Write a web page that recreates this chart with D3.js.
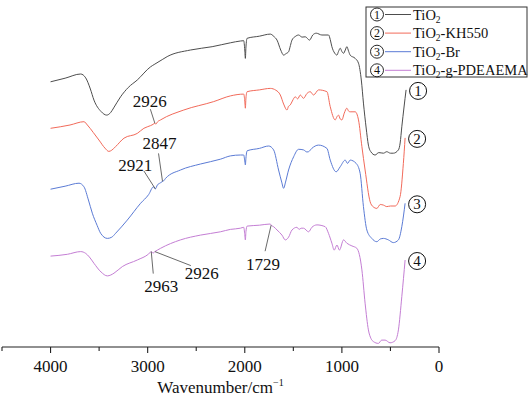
<!DOCTYPE html>
<html>
<head>
<meta charset="utf-8">
<script src="https://cdn.jsdelivr.net/npm/d3@7"></script>
<style>
  body { margin: 0; background: #fff; }
  svg { display: block; }
</style>
</head>
<body>
<div id="chart"></div>
<script>
// FTIR spectra, [wavenumber (cm-1), transmittance a.u. (stacked)]
let tio2 = [
    [4000,88.4],[3850,89.6],[3690,91.0],[3638,89.7],[3590,86],[3553,82.3],[3480,78.5],[3422,77.3],[3380,78.2],
    [3350,79.7],[3279,83.4],[3200,86.5],[3107,89.0],[2970,93.4],[2926,94.3],[2850,95.8],[2799,96.8],[2559,99.0],
    [2336,100.1],[2148,101.4],[2045,102.0],[2011,102.1],[2000,99],[1994,96.2],[1988,100],[1976,102.9],[1850,103.6],
    [1737,104.3],[1700,103.5],[1668,102.3],[1630,99],[1600,97.3],[1575,97.8],[1549,98.4],[1530,100.5],[1514,102.3],
    [1480,103.5],[1446,104.0],[1410,103.3],[1377,103.4],[1333,102.3],[1300,104],[1264,104.6],[1206,104.0],[1137,104.0],
    [1120,102.5],[1103,100.1],[1075,98],[1051,97.3],[1035,98.5],[1017,99.6],[1000,98.5],[983,97.9],[965,99],
    [949,100.1],[930,98.5],[915,97.3],[863,96.2],[829,94.6],[800,89],[778,81.3],[750,73],[727,67.3],[700,65],
    [658,64.0],[620,64.8],[572,64.6],[538,65.1],[500,64.6],[470,64.6],[418,65.7],[400,68],[383,73.4],[360,80],[339,85.7]
];
let tio2KH550 = [
    [4000,72.9],[3800,74],[3656,75.1],[3621,74.0],[3560,71.5],[3502,69.0],[3440,66.3],[3400,65.2],[3370,65.6],
    [3330,66.8],[3244,69.6],[3107,71.2],[3039,72.9],[2970,73.8],[2945,74.2],[2926,74.6],[2915,74.3],[2900,75.0],
    [2867,75.7],[2628,79.0],[2320,81.8],[2148,83.7],[2011,84.3],[2000,82],[1994,79.6],[1988,83],[1976,85.1],
    [1850,85.7],[1737,86.2],[1680,85.6],[1634,84.0],[1600,81],[1565,79.0],[1550,80.2],[1531,80.7],[1510,82],
    [1480,83.4],[1455,82.7],[1429,84.0],[1395,82.9],[1360,84.5],[1326,85.1],[1292,84.0],[1240,85.7],[1154,85.1],
    [1120,80.1],[1069,75.7],[1050,76.8],[1035,77.3],[1017,76],[1000,75.7],[975,78],[949,79.6],[930,78.6],[915,78.4],
    [863,78.4],[829,75.7],[794,66.8],[761,59.0],[709,48.4],[680,46.8],[640,46.2],[605,47.5],[572,47.3],[538,46.8],
    [500,47],[452,47.0],[401,50.1],[367,61.2],[349,69.7]
];
let tio2Br = [
    [4000,52.6],[3850,53.6],[3707,54.6],[3656,53.4],[3610,49],[3570,44.6],[3520,40.5],[3484,37.9],[3415,36.2],
    [3370,36.6],[3330,37.9],[3210,42.3],[3073,47.9],[2990,50.8],[2940,53.4],[2921,52.7],[2900,54.0],[2870,54.7],
    [2847,55.2],[2835,55.4],[2816,56.2],[2662,59.0],[2456,61.0],[2251,62.6],[2148,63.7],[2045,64.0],[2011,64.0],
    [2000,62],[1994,60.7],[1988,63],[1976,65.4],[1850,66.2],[1754,67.0],[1703,65.7],[1652,59.0],[1620,55],
    [1600,52.9],[1580,55],[1549,59.0],[1497,63.4],[1446,65.9],[1395,65.7],[1360,65.0],[1343,65.1],[1310,66.2],
    [1240,67.3],[1154,66.2],[1120,62.3],[1059,58.4],[1017,60.1],[966,62.3],[942,61.2],[915,62.3],[853,61.2],
    [812,57.9],[778,46.8],[743,39.0],[692,36.2],[640,35.1],[605,36],[572,36.2],[521,35.7],[470,34.8],[418,35.7],
    [383,40.1],[349,47.9]
];
let tio2PDEAEMA = [
    [4000,30.3],[3827,30.9],[3690,31.8],[3638,31.2],[3600,30],[3553,27.9],[3480,25],[3415,23.7],[3380,24],
    [3347,24.6],[3261,26.8],[3107,29.0],[2990,31.0],[2963,31.8],[2945,31.3],[2926,31.8],[2900,32.3],[2867,32.9],
    [2662,35.7],[2456,37.3],[2251,38.4],[2148,39.2],[2045,39.6],[2011,39.9],[2000,37.5],[1994,35.7],[1988,38.5],
    [1976,40.3],[1850,40.6],[1737,41.0],[1729,40.6],[1703,40.1],[1668,39.0],[1617,37.3],[1583,35.7],[1549,36.6],
    [1514,39.0],[1463,39.9],[1440,39.2],[1420,39.6],[1395,39.6],[1343,38.4],[1309,39.9],[1257,40.7],[1172,40.1],
    [1138,37.9],[1103,34.6],[1079,32.3],[1051,34.0],[1025,32.3],[983,35.7],[949,34.6],[897,33.7],[846,32.9],
    [794,25.7],[761,14.6],[727,5.7],[700,2.8],[675,1.8],[624,1.2],[590,2.3],[555,2.3],[504,1.4],[452,2.1],
    [418,5.7],[383,16.8],[349,29.0]
];

let seriesNames = ["TiO2", "TiO2-KH550", "TiO2-Br", "TiO2-g-PDEAEMA"];
let seriesNumbers = ["1", "2", "3", "4"];
let seriesData = [tio2, tio2KH550, tio2Br, tio2PDEAEMA];

// peak labels: text, wavenumber, which series (index)
let peakLabels = ["2926", "2847", "2921", "2963", "2926", "1729"];
let peakWavenumbers = [2926, 2847, 2921, 2963, 2926, 1729];
let peakSeries = [1, 2, 2, 3, 3, 3];

let xTicks = [4000, 3000, 2000, 1000, 0];
let xMinorTicks = [4500, 3500, 2500, 1500, 500];

const width = 530, height = 400;
const colors = ["#4d4d4d", "#f26a5a", "#5b7bd5", "#c47ed4"];
const serif = "'Liberation Serif', 'Times New Roman', Times, serif";

const svg = d3.select("#chart").append("svg")
    .attr("width", width)
    .attr("height", height)
    .attr("font-family", serif)
    .style("font-family", serif);

const x = d3.scaleLinear().domain([4500, 0]).range([2, 439]);
const y = d3.scaleLinear().domain([0, 100]).range([347, 47]);
const axisY = 347;

// axis
const axis = svg.append("g").attr("transform", `translate(0,${axisY})`);
axis.append("line")
    .attr("x1", x(4500)).attr("x2", x(0))
    .attr("stroke", "#222").attr("stroke-width", 1.2);
axis.selectAll(".major").data(xTicks).join("line")
    .attr("x1", d => x(d)).attr("x2", d => x(d))
    .attr("y1", 0).attr("y2", 6)
    .attr("stroke", "#222").attr("stroke-width", 1.1);
axis.selectAll(".minor").data(xMinorTicks).join("line")
    .attr("x1", d => x(d)).attr("x2", d => x(d))
    .attr("y1", 0).attr("y2", 4)
    .attr("stroke", "#222").attr("stroke-width", 1.1);
axis.selectAll(".tl").data(xTicks).join("text")
    .attr("x", d => x(d)).attr("y", 25)
    .attr("text-anchor", "middle")
    .attr("font-size", "17px")
    .attr("fill", "#111")
    .text(d => d);

const title = svg.append("text")
    .attr("x", (x(4500) + x(0)) / 2).attr("y", 393)
    .attr("text-anchor", "middle")
    .attr("font-size", "17px")
    .attr("fill", "#111");
title.append("tspan").text("Wavenumber/cm");
title.append("tspan").attr("font-size", "10px").attr("dy", "-7").text("−1");

// spectra
const line = d3.line()
    .x(d => x(d[0]))
    .y(d => y(d[1]))
    .curve(d3.curveMonotoneX);

svg.append("g").selectAll("path")
    .data(seriesData)
    .join("path")
    .attr("d", line)
    .attr("fill", "none")
    .attr("stroke", (d, i) => colors[i])
    .attr("stroke-width", 1);

// circled numbers
function circled(sel, r, fs) {
    sel.append("circle")
        .attr("r", r)
        .attr("fill", "#fff")
        .attr("stroke", "#111")
        .attr("stroke-width", 1);
    sel.append("text")
        .attr("text-anchor", "middle")
        .attr("dy", fs * 0.34)
        .attr("font-size", fs + "px")
        .attr("fill", "#111")
        .text((d, i) => seriesNumbers[i]);
}

svg.append("g").selectAll("g")
    .data(seriesData)
    .join("g")
    .attr("transform", d => `translate(${x(d[d.length - 1][0]) + 12},${y(d[d.length - 1][1]) + 1})`)
    .call(circled, 8.5, 15);

// peak annotations, offsets in px: [leader end dx, dy, text dx, dy]
const annotLayout = [
    [-4.5, -14, -5, -16],
    [-4, -28, -3, -32],
    [-11.5, -18, -20, -18],
    [2, 22, 10, 40],
    [36, 14, 47, 27],
    [-6, 26, -8, 45]
];
const interp = (data, wn) => {
    for (let i = 0; i < data.length - 1; i++) {
        const a = data[i], b = data[i + 1];
        if (wn <= a[0] && wn >= b[0]) {
            const t = (a[0] - wn) / (a[0] - b[0]);
            return a[1] + t * (b[1] - a[1]);
        }
    }
    return data[0][1];
};
const annots = peakLabels.map((lab, i) => {
    const tx = x(peakWavenumbers[i]);
    const ty = y(interp(seriesData[peakSeries[i]], peakWavenumbers[i]));
    const o = annotLayout[i];
    return {lab, tx, ty, lx: tx + o[0], ly: ty + o[1], px: tx + o[2], py: ty + o[3]};
});
const ag = svg.append("g");
ag.selectAll("line").data(annots).join("line")
    .attr("x1", d => d.tx).attr("y1", d => d.ty)
    .attr("x2", d => d.lx).attr("y2", d => d.ly)
    .attr("stroke", "#444").attr("stroke-width", 0.8);
ag.selectAll("text").data(annots).join("text")
    .attr("x", d => d.px).attr("y", d => d.py)
    .attr("text-anchor", "middle")
    .attr("font-size", "17px")
    .attr("fill", "#111")
    .text(d => d.lab);

// legend
const legend = svg.append("g").attr("transform", "translate(366,7)");
legend.append("rect")
    .attr("width", 161).attr("height", 70)
    .attr("fill", "#fff").attr("stroke", "#333").attr("stroke-width", 1);
const rows = legend.selectAll(".row").data(seriesNames).join("g")
    .attr("transform", (d, i) => `translate(0,${7.5 + i * 18.6})`);
rows.append("g")
    .attr("transform", "translate(11,0)")
    .each(function (d, i) {
        const g = d3.select(this);
        g.append("circle").attr("r", 6.5)
            .attr("fill", "#fff").attr("stroke", "#111").attr("stroke-width", 0.9);
        g.append("text").attr("text-anchor", "middle").attr("dy", 4)
            .attr("font-size", "12px").attr("fill", "#111")
            .text(seriesNumbers[i]);
    });
rows.append("line")
    .attr("x1", 19).attr("x2", 45)
    .attr("stroke", (d, i) => colors[i]).attr("stroke-width", 1);
rows.each(function (name) {
    const t = d3.select(this).append("text")
        .attr("x", 47).attr("y", 5)
        .attr("font-size", "14.5px")
        .attr("fill", "#111");
    t.append("tspan").text("TiO");
    t.append("tspan").attr("font-size", "9.5px").attr("dy", 3).text("2");
    const rest = name.slice(4);
    if (rest) t.append("tspan").attr("dy", -3).text(rest);
});
</script>
</body>
</html>
